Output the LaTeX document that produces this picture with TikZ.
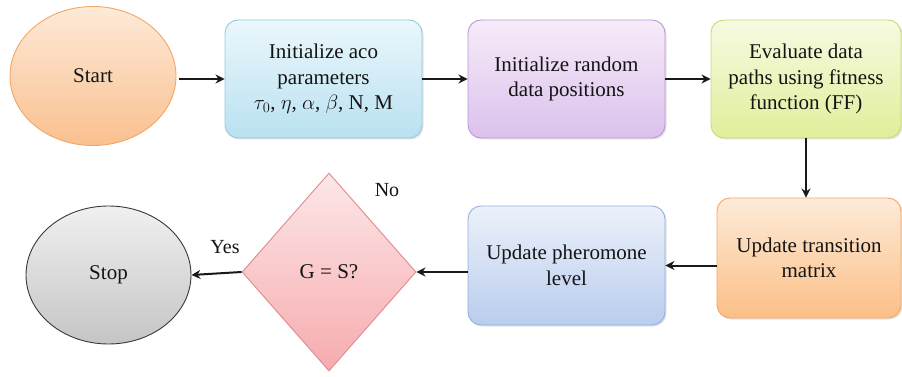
\documentclass[tikz,border=0pt]{standalone}
\usepackage{fontspec}
\setmainfont{Liberation Serif}
\usetikzlibrary{shapes.geometric,arrows.meta,shadows}
% fill and border colours of the flowchart shapes
\definecolor{startTop}{HTML}{FDEAD8}\definecolor{startBot}{HTML}{FAC08F}\definecolor{startLine}{HTML}{F3A765}
\definecolor{initTop}{HTML}{EBF7FC}\definecolor{initBot}{HTML}{B9E1F1}\definecolor{initLine}{HTML}{92CBDE}
\definecolor{randTop}{HTML}{F6ECF9}\definecolor{randBot}{HTML}{DBC1EC}\definecolor{randLine}{HTML}{BC97D4}
\definecolor{evalTop}{HTML}{F7FAE2}\definecolor{evalBot}{HTML}{E1EE9A}\definecolor{evalLine}{HTML}{C7DA72}
\definecolor{transTop}{HTML}{FDEBD9}\definecolor{transBot}{HTML}{FBBF86}\definecolor{transLine}{HTML}{F5A762}
\definecolor{pherTop}{HTML}{ECF1FA}\definecolor{pherBot}{HTML}{B9CDEE}\definecolor{pherLine}{HTML}{92B0DC}
\definecolor{decTop}{HTML}{FDE7E8}\definecolor{decBot}{HTML}{F6ABAE}\definecolor{decLine}{HTML}{DE8B8E}
\definecolor{stopTop}{HTML}{F0F0F0}\definecolor{stopBot}{HTML}{C5C5C5}\definecolor{stopLine}{HTML}{383838}
\begin{document}
\begin{tikzpicture}[x=1pt,y=-1pt,
  every node/.style={font=\fontsize{21}{25.5}\selectfont, align=center, text=black!92},
  proc/.style={draw, line width=0.9pt, rounded corners=13pt, inner sep=2pt,
    drop shadow={shadow xshift=1.5pt, shadow yshift=-1.5pt, opacity=0.22}},
  term/.style={ellipse, draw, line width=0.9pt, inner sep=0pt},
  arr/.style={-{Stealth[length=9pt,width=9pt]}, line width=2pt, black!90},
  lbl/.style={font=\fontsize{20}{24}\selectfont}
]
\useasboundingbox (0,0) rectangle (902,377);

% terminals
\node[term, minimum width=166pt, minimum height=139pt,
      draw=startLine, top color=startTop, bottom color=startBot]
      (start) at (93,76) {Start};
\node[term, minimum width=165pt, minimum height=138pt,
      draw=stopLine, top color=stopTop, bottom color=stopBot]
      (stop) at (108.5,275) {Stop};

% process boxes, top row
\node[proc, minimum width=197pt, minimum height=118pt,
      draw=initLine, top color=initTop, bottom color=initBot]
      (init) at (323.5,79) {Initialize aco\\parameters\\$\tau_0$, $\eta$, $\alpha$, $\beta$, N, M};
\node[proc, minimum width=197pt, minimum height=118pt,
      draw=randLine, top color=randTop, bottom color=randBot]
      (rand) at (566.5,79) {Initialize random\\data positions};
\node[proc, minimum width=190pt, minimum height=118pt,
      draw=evalLine, top color=evalTop, bottom color=evalBot]
      (eval) at (806,79) {Evaluate data\\paths using fitness\\function (FF)};

% process boxes, bottom row
\node[proc, minimum width=184pt, minimum height=120pt,
      draw=transLine, top color=transTop, bottom color=transBot]
      (trans) at (809,258) {Update transition\\matrix};
\node[proc, minimum width=197pt, minimum height=119pt,
      draw=pherLine, top color=pherTop, bottom color=pherBot]
      (pher) at (566.5,265.5) {Update pheromone\\level};

% decision
\node[diamond, draw=decLine, line width=0.9pt, inner sep=0pt,
      minimum width=174pt, minimum height=198pt,
      top color=decTop, bottom color=decBot]
      (dec) at (329,272) {G = S?};

% branch labels
\node[lbl] (yes) at (225,247) {Yes};
\node[lbl] (no) at (387,190) {No};

% connectors
\draw[arr] (start.east |- init) ++(3,0) coordinate (s0) -- (init.west);
\draw[arr] (init) -- (rand);
\draw[arr] (rand) -- (eval);
\draw[arr] (eval.south) -- (eval.south |- trans.north);
\draw[arr] (trans.west |- pher) -- (pher.east);
\draw[arr] (pher.west |- dec) -- (dec.east);
\draw[arr] (dec.west) -- (stop.east);
\end{tikzpicture}
\end{document}
